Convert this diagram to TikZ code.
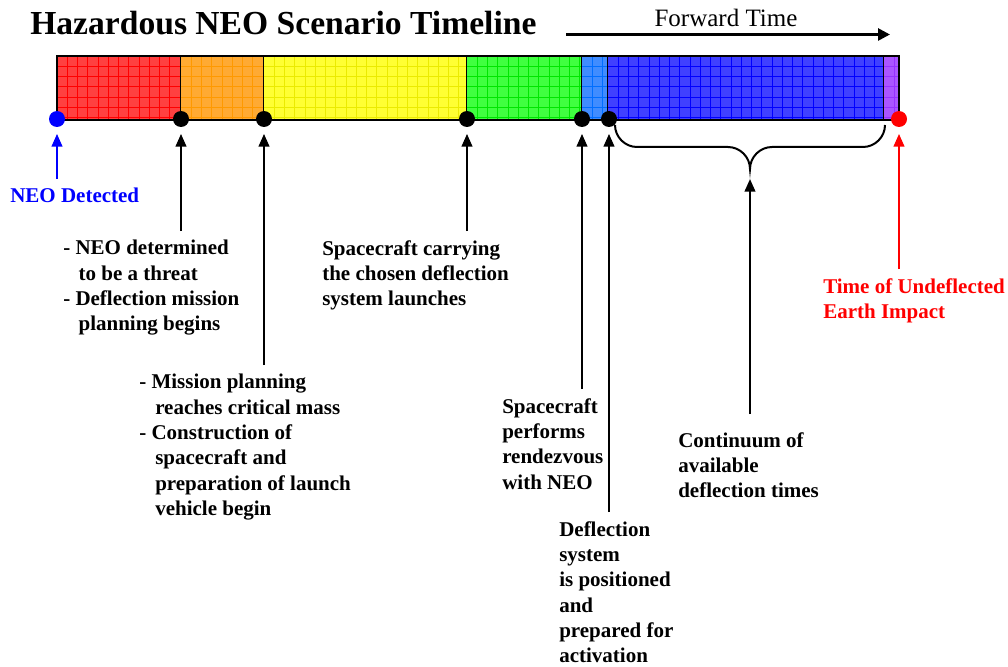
\documentclass[tikz,border=0pt]{standalone}
\usepackage{fontspec}
\setmainfont{Liberation Serif}
\usetikzlibrary{arrows.meta}

\definecolor{segred}{RGB}{255,64,64}
\definecolor{segredln}{RGB}{255,0,0}
\definecolor{segorange}{RGB}{255,170,51}
\definecolor{segorangeln}{RGB}{255,153,0}
\definecolor{segyellow}{RGB}{255,255,51}
\definecolor{segyellowln}{RGB}{235,235,0}
\definecolor{seggreen}{RGB}{64,255,64}
\definecolor{seggreenln}{RGB}{0,230,0}
\definecolor{segltblue}{RGB}{64,140,255}
\definecolor{segltblueln}{RGB}{0,110,255}
\definecolor{segblue}{RGB}{64,64,255}
\definecolor{segblueln}{RGB}{0,0,255}
\definecolor{segpurple}{RGB}{170,85,255}
\definecolor{segpurpleln}{RGB}{150,50,255}

\tikzset{
    dot/.style={circle, fill=black, inner sep=0pt, minimum size=12pt},
    lab/.style={anchor=north west, align=left, inner xsep=0pt, inner ysep=6.75pt,
        font=\fontsize{15.75}{19}\selectfont\bfseries},
    arr/.style={line width=1.5pt, -{Triangle[length=9.5pt,width=8pt]}, shorten >=5pt},
}

\begin{document}
\begin{tikzpicture}[x=0.75pt, y=-0.75pt]
    \useasboundingbox (0,0) rectangle (1008,667);

    % title and time direction
    \node[anchor=base west, inner sep=0pt, font=\fontsize{25.2}{30}\selectfont\bfseries] (title) at (30,35) {Hazardous NEO Scenario Timeline};
    \node[anchor=base, inner sep=0pt, font=\fontsize{18.75}{22}\selectfont] (fwd) at (726,27) {Forward Time};
    \coordinate (fwdA) at (566,34.5);
    \coordinate (fwdB) at (890,34.5);
    \draw[line width=2pt, -{Triangle[length=9pt,width=9pt]}] (fwdA) -- (fwdB);

    % timeline bar
    \foreach \xa/\xb/\fc/\lc in {57/181/segred/segredln, 181/264/segorange/segorangeln,
            264/467/segyellow/segyellowln, 467/582/seggreen/seggreenln,
            582/608/segltblue/segltblueln, 608/884/segblue/segblueln,
            884/899/segpurple/segpurpleln} {
        \begin{scope}
            \clip (\xa,56) rectangle (\xb,120);
            \fill[\fc] (\xa,56) rectangle (\xb,120);
            \foreach \i in {1,...,27}
                \draw[\lc, line width=0.6pt] (\xa+\i*10.25,56) -- ++(0,64);
            \foreach \j in {1,...,6}
                \draw[\lc, line width=0.6pt] (\xa,56+\j*10.25) -- (\xb,56+\j*10.25);
        \end{scope}
        \draw[line width=1.5pt] (\xb,56) -- (\xb,120);
    }
    \draw[line width=1.8pt] (57,56) rectangle (899,120);

    % events
    \node[dot, fill=blue] (d0) at (57,119) {};
    \node[dot] (d1) at (181,119) {};
    \node[dot] (d2) at (264,119) {};
    \node[dot] (d3) at (467,119) {};
    \node[dot] (d4) at (582,119) {};
    \node[dot] (d5) at (609,119) {};
    \node[dot, fill=red] (d6) at (899,119) {};

    % brace over the deflection window
    \coordinate (brL) at (615,125);
    \coordinate (brR) at (885,125);
    \coordinate (brtip) at (750,169);
    \draw[line width=1.5pt] (brL) .. controls (615,137) and (625,147) .. (637,147) -- (728,147)
        .. controls (740,147) and (750,157) .. (brtip)
        .. controls (750,157) and (760,147) .. (772,147) -- (863,147)
        .. controls (875,147) and (885,137) .. (brR);

    % labels
    \node[lab, text=blue] (lab0) at (10,179) {NEO Detected};
    \node[lab] (lab1) at (63,231) {- NEO determined\\\hspace*{11.5pt}to be a threat\\- Deflection mission\\\hspace*{11.5pt}planning begins};
    \node[lab] (lab2) at (139,365) {- Mission planning\\\hspace*{12pt}reaches critical mass\\- Construction of\\\hspace*{12pt}spacecraft and\\\hspace*{12pt}preparation of launch\\\hspace*{12pt}vehicle begin};
    \node[lab] (lab3) at (322,231) {Spacecraft carrying\\the chosen deflection\\system launches};
    \node[lab] (lab4) at (502,389) {Spacecraft\\performs\\rendezvous\\with NEO};
    \node[lab] (lab5) at (559,512) {Deflection\\system\\is positioned\\and\\prepared for\\activation};
    \node[lab, inner ysep=13.5pt] (lab6) at (678,414) {Continuum of\\available\\deflection times};
    \node[lab, text=red] (lab7) at (823,269) {Time of Undeflected\\Earth Impact};

    % connectors
    \draw[arr, blue] (lab0.north -| d0) -- (d0);
    \draw[arr] (lab1.north -| d1) -- (d1);
    \draw[arr] (lab2.north -| d2) -- (d2);
    \draw[arr] (lab3.north -| d3) -- (d3);
    \draw[arr] (lab4.north -| d4) -- (d4);
    \draw[arr] (lab5.north -| d5) -- (d5);
    \draw[arr, shorten >=7.5pt] (lab6.north -| brtip) -- (brtip);
    \draw[arr, red] (lab7.north -| d6) -- (d6);
\end{tikzpicture}
\end{document}
